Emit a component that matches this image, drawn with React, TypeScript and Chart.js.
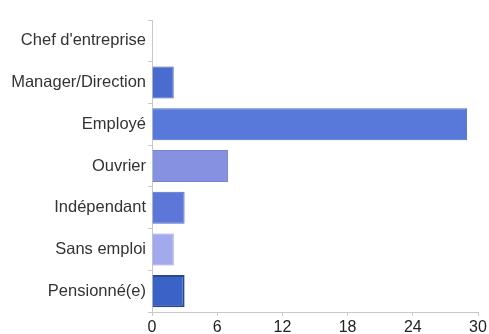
import React, { useEffect, useRef } from "react";
import { Chart, registerables } from "chart.js";

Chart.register(...registerables);

const categories = ["Chef d'entreprise", "Manager/Direction", "Employé", "Ouvrier", "Indépendant", "Sans emploi", "Pensionné(e)"];
const values = [0, 2, 29, 7, 3, 2, 3];
const barColors = ["#4f70d2", "#4a6ccf", "#5878da", "#8791e2", "#5d77d9", "#a2a9ec", "#3b62c6"];
const borderColors = ["#3f5fbf", "#3e5fc0", "#4a69c9", "#7882d2", "#4f69c8", "#9299db", "#2a4790"];
const borderWidths = [1, 1, 1, 1, 1, 1, 2];
const xTicks = [0, 6, 12, 18, 24, 30];

export default function App() {
  const ref = useRef<HTMLCanvasElement>(null);
  useEffect(() => {
    if (!ref.current) return;
    const chart = new Chart(ref.current, {
      type: "bar",
      data: {
        labels: categories,
        datasets: [
          {
            data: values,
            backgroundColor: barColors,
            borderColor: borderColors,
            borderWidth: borderWidths,
            categoryPercentage: 0.8,
            barPercentage: 0.96,
          },
        ],
      },
      options: {
        indexAxis: "y",
        animation: false,
        responsive: false,
        maintainAspectRatio: false,
        layout: { padding: { top: 20, right: 11, left: 0, bottom: 0 } },
        plugins: { legend: { display: false }, tooltip: { enabled: false } },
        scales: {
          x: {
            min: 0,
            max: 30,
            afterBuildTicks: (scale: any) => {
              scale.ticks = xTicks.map((v) => ({ value: v }));
            },
            afterFit: (scale: any) => {
              scale.height = 22;
            },
            grid: {
              drawOnChartArea: false,
              drawTicks: true,
              tickLength: 4,
              color: "#c8c8c8",
            },
            border: { color: "#c8c8c8" },
            ticks: {
              color: "#222",
              font: { family: "Liberation Sans, Arial", size: 16 },
              padding: 2,
              maxRotation: 0,
            },
          },
          y: {
            afterFit: (scale: any) => {
              scale.width = 152;
            },
            grid: {
              drawOnChartArea: false,
              drawTicks: true,
              tickLength: 4,
              color: "#c8c8c8",
            },
            border: { color: "#c8c8c8" },
            ticks: {
              color: "#333",
              font: { family: "Liberation Sans, Arial", size: 16.5 },
              padding: 2,
            },
          },
        },
      },
    });
    return () => chart.destroy();
  }, []);
  return (
    <div style={{ position: "fixed", left: 0, top: 0, width: 489, height: 334, background: "#fff" }}>
      <canvas ref={ref} width={489} height={334} style={{ width: 489, height: 334 }} />
    </div>
  );
}
